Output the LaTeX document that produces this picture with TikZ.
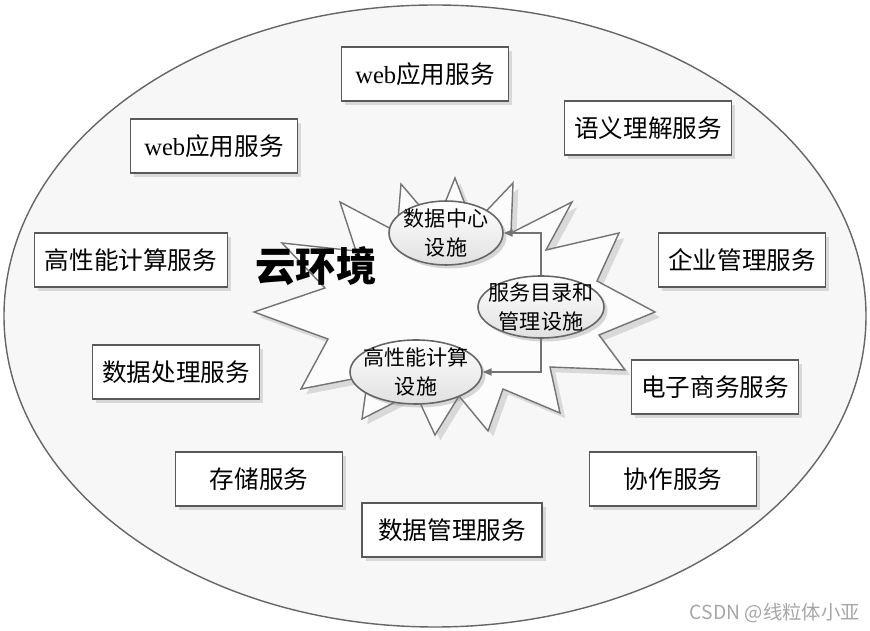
\documentclass[tikz,border=0pt]{standalone}
\usepackage{fontspec}
\setmainfont{Noto Sans CJK SC}
\newfontfamily\latin{Liberation Serif}
\usetikzlibrary{shapes.geometric,shadows,arrows.meta}

\begin{document}
\begin{tikzpicture}[x=0.02cm,y=-0.02cm,
  svc/.style={draw=black!65,line width=1.1pt,fill=white,minimum height=1.08cm,inner sep=0pt,
    font=\fontsize{14}{16}\selectfont,drop shadow={shadow xshift=2pt,shadow yshift=-2pt,opacity=0.25}},
  infra/.style={ellipse,draw=black!60,line width=0.9pt,top color=white,bottom color=black!12,inner sep=0pt,
    drop shadow={shadow xshift=2pt,shadow yshift=-2pt,opacity=0.3}},
  infratext/.style={align=center,font=\fontsize{12}{16}\selectfont},
  link/.style={draw=black!55,line width=0.9pt,-{Triangle[length=5pt,width=4pt]}}]
\useasboundingbox (0,0) rectangle (870,631);
\coordinate (O) at (435,316); \coordinate (C) at (452,310);
\path[draw=black!60,line width=0.8pt,fill=black!3] (O) ellipse [x radius=431,y radius=311];
% star of the cloud environment
\path[draw=black!55,line width=0.8pt,fill=black!1,
  drop shadow={shadow xshift=3pt,shadow yshift=-3pt,opacity=0.25}]
  (282,243) -- (356,251) -- (340,202) -- (397,232) -- (401,184) -- (436,225) -- (455,178) -- (473,225)
  -- (513,183) -- (511,233) -- (572,202) -- (546,250) -- (619,233) -- (597,281) -- (655,312) -- (599,335)
  -- (625,370) -- (550,367) -- (560,413) -- (503,389) -- (488,431) -- (459,396) -- (435,435) -- (415,392)
  -- (362,419) -- (368,376) -- (301,389) -- (328,339) -- (254,312) -- (325,288) -- cycle;
\node[font=\fontsize{23}{25}\selectfont\bfseries] (env) at (316,266) {云环境};
\node[infra,minimum width=2.28cm,minimum height=1.28cm,label={[infratext]center:数据中心\\设施}] (dc) at (446,233) {};
\node[infra,minimum width=2.52cm,minimum height=1.24cm,label={[infratext]center:服务目录和\\管理设施}] (cat) at (541,307) {};
\node[infra,minimum width=2.64cm,minimum height=1.28cm,label={[infratext]center:高性能计算\\设施}] (hpc) at (416,372) {};
\draw[link] (cat.north) |- (dc.east);
\draw[link] (cat.south) |- (hpc.east);
% services around
\foreach \n/\x/\y/\w/\t in {web1/425/74/167/{{\latin web}应用服务},web2/214/146/167/{{\latin web}应用服务},
  sem/648/128/167/语义理解服务,hpcs/131/260/193/高性能计算服务,ent/742/260/167/企业管理服务,
  proc/176/372/167/数据处理服务,ecom/715/387/167/电子商务服务,store/259/479/167/存储服务,
  coop/673/479/167/协作服务,dm/452/530/180/数据管理服务}{
  \node[svc,minimum width={\w*0.02cm}] (\n) at (\x,\y) {\t};}
\node[font=\fontsize{11}{12}\selectfont,text=black!35,anchor=east] (mark) at (866,613) {CSDN @线粒体小亚};
\end{tikzpicture}
\end{document}
